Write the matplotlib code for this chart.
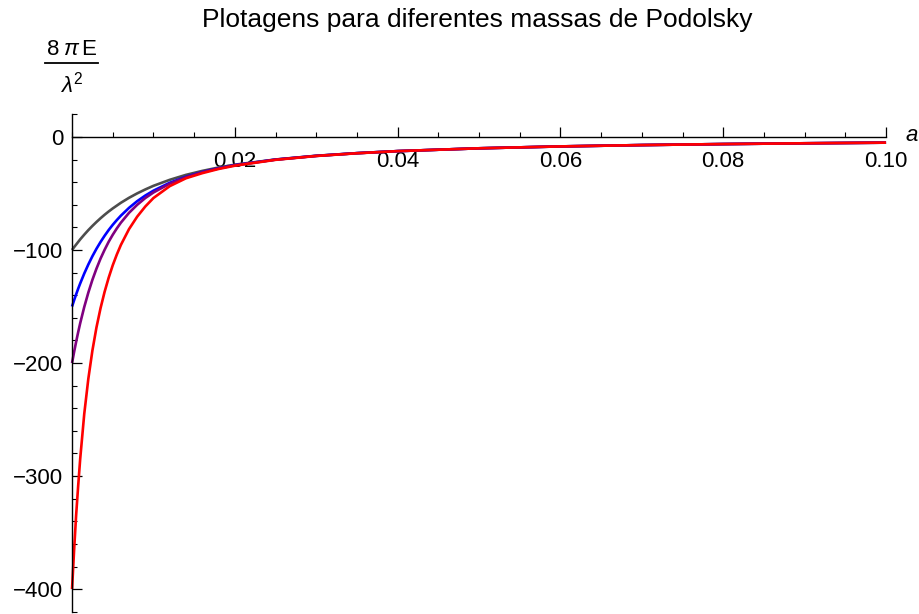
import matplotlib
matplotlib.use("Agg")
import matplotlib.pyplot as plt
from matplotlib.lines import Line2D
from matplotlib.ticker import FixedLocator, MultipleLocator, FixedFormatter

plt.rcParams['font.family'] = ['Liberation Sans', 'DejaVu Sans']
plt.rcParams['mathtext.fontset'] = 'custom'
plt.rcParams['mathtext.rm'] = 'Liberation Sans'
plt.rcParams['mathtext.it'] = 'Liberation Sans:italic'
plt.rcParams['mathtext.bf'] = 'Liberation Sans:bold'

# separation a
a_vals = [0.0, 0.00025, 0.0005, 0.00075, 0.001, 0.0015, 0.002, 0.0025, 0.003,
          0.0035, 0.004, 0.0045, 0.005, 0.0055, 0.006, 0.007, 0.008, 0.009, 0.010,
          0.012, 0.014, 0.016, 0.018, 0.020, 0.025, 0.030, 0.035, 0.040, 0.050,
          0.060, 0.070, 0.080, 0.090, 0.100]

# 8*pi*E / lambda^2 for each Podolsky mass
gray_vals = [-100.0, -97.5, -95.2, -92.9, -90.6, -86.4, -82.4, -78.7, -75.2,
             -71.9, -68.8, -65.9, -63.2, -60.7, -58.2, -53.8, -49.9, -46.4, -43.2,
             -37.9, -33.5, -30.0, -27.0, -24.5, -19.9, -16.6, -14.3, -12.5, -10.0,
             -8.33, -7.14, -6.25, -5.56, -5.00]
blue_vals = [-150.0, -144.5, -139.3, -134.3, -129.6, -120.8, -112.8, -105.5, -98.9,
             -92.9, -87.4, -82.3, -77.7, -73.5, -69.6, -62.7, -56.8, -51.8, -47.5,
             -40.5, -35.2, -31.0, -27.7, -24.9, -20.0, -16.7, -14.3, -12.5, -10.0,
             -8.33, -7.14, -6.25, -5.56, -5.00]
purple_vals = [-200.0, -190.3, -181.3, -172.8, -164.8, -150.4, -137.7, -126.4, -116.5,
               -107.6, -99.8, -92.7, -86.5, -80.9, -75.8, -67.1, -60.0, -54.0, -49.1,
               -41.3, -35.6, -31.2, -27.8, -25.0, -20.0, -16.7, -14.3, -12.5, -10.0,
               -8.33, -7.14, -6.25, -5.56, -5.00]
red_vals = [-400.0, -366.0, -335.0, -309.0, -285.0, -245.0, -214.0, -189.0, -168.5,
            -151.5, -137.0, -124.5, -113.5, -104.0, -95.5, -81.5, -70.5, -61.5, -54.0,
            -43.5, -36.5, -32.0, -28.3, -25.4, -20.2, -16.8, -14.4, -12.5, -10.0,
            -8.33, -7.14, -6.25, -5.56, -5.00]

x_major = [0.02, 0.04, 0.06, 0.08, 0.10]
x_labels = ['0.02', '0.04', '0.06', '0.08', '0.10']
y_major = [0, -100, -200, -300, -400]

fig = plt.figure(figsize=(9.2, 6.14), dpi=100)
ax = fig.add_axes([0.0783, 0.0037, 0.8848, 0.81])

series = [(gray_vals, '#4d4d4d'), (blue_vals, '#0000ff'),
          (purple_vals, '#800080'), (red_vals, '#ff0000')]
for vals, col in series:
    ax.plot(a_vals, vals, color=col, lw=1.9, solid_capstyle='butt',
            solid_joinstyle='round', clip_on=False)

ax.set_xlim(0, 0.1)
ax.set_ylim(-420, 20)

ax.spines['top'].set_visible(False)
ax.spines['right'].set_visible(False)
ax.spines['bottom'].set_position(('data', 0))
for s in ('left', 'bottom'):
    ax.spines[s].set_linewidth(1.0)
    ax.spines[s].set_color('black')

ax.xaxis.set_major_locator(FixedLocator(x_major))
ax.xaxis.set_major_formatter(FixedFormatter(x_labels))
ax.xaxis.set_minor_locator(MultipleLocator(0.005))
ax.yaxis.set_major_locator(FixedLocator(y_major))
ax.yaxis.set_minor_locator(MultipleLocator(20))

ax.tick_params(axis='both', which='major', direction='in', length=7, width=0.9,
               labelsize=16, colors='black')
ax.tick_params(axis='both', which='minor', direction='in', length=3.8, width=0.8)
ax.tick_params(axis='x', which='major', pad=10)
ax.tick_params(axis='y', which='major', pad=6.5)

ax.annotate('a', xy=(0.1, 0), xytext=(14, 1), textcoords='offset points',
            fontsize=16, style='italic', ha='left', va='center', annotation_clip=False)

# y-axis label as a stacked fraction: 8 pi E / lambda^2
fig.text(0.0777, 0.9186, r'$8\;\pi\,\mathrm{E}$', fontsize=16, ha='center', va='center')
fig.add_artist(Line2D([0.0489, 0.1065], [0.8974, 0.8974], transform=fig.transFigure,
                      color='black', lw=1.3))
fig.text(0.0777, 0.8616, r'$\lambda^{2}$', fontsize=16, ha='center', va='center')

fig.text(0.5185, 0.967, 'Plotagens para diferentes massas de Podolsky', fontsize=19,
         ha='center', va='center')

fig.savefig('out.png', dpi=100)
